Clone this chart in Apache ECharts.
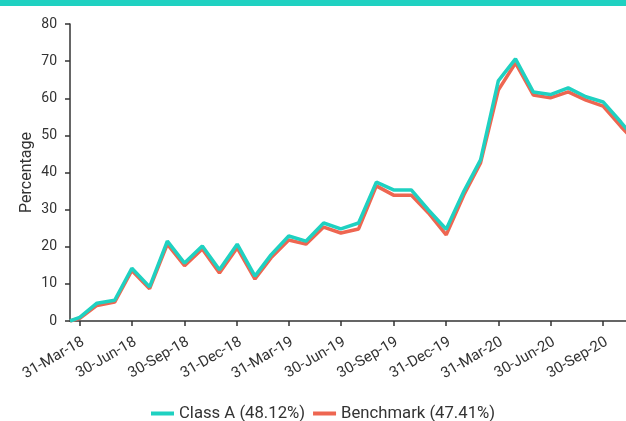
<!DOCTYPE html>
<html>
<head>
<meta charset="utf-8">
<script src="https://cdn.jsdelivr.net/npm/echarts@6/dist/echarts.min.js"></script>
<style>html,body{margin:0;padding:0;background:#fff;}#c{width:626px;height:421px;}</style>
</head>
<body>
<div id="c"></div>
<script>
const dates = ['2018-03-14','2018-03-31','2018-04-30','2018-05-31','2018-06-30','2018-07-31','2018-08-31','2018-09-30','2018-10-31','2018-11-30','2018-12-31',
  '2019-01-31','2019-02-28','2019-03-31','2019-04-30','2019-05-31','2019-06-30','2019-07-31','2019-08-31','2019-09-30','2019-10-31','2019-11-30','2019-12-31',
  '2020-01-31','2020-02-29','2020-03-31','2020-04-30','2020-05-31','2020-06-30','2020-07-31','2020-08-31','2020-09-30','2020-10-31','2020-11-30'];
const classA = [0,1.0,4.8,5.6,14.2,9.2,21.5,15.6,20.2,13.8,20.7,
  12.1,17.8,22.9,21.5,26.4,24.8,26.4,37.4,35.3,35.3,29.9,24.7,
  35.0,43.4,64.7,70.6,61.7,61.0,62.8,60.4,59.0,53.6,48.12];
const benchmark = [0,0.7,4.2,5.1,13.6,8.7,20.7,14.9,19.4,12.9,19.7,
  11.3,17.0,21.8,20.7,25.3,23.7,24.8,36.4,33.9,33.9,29.1,23.2,
  34.0,42.6,62.2,69.5,60.9,60.1,61.7,59.5,57.9,52.4,47.41];
const tickDates = ['2018-03-31','2018-06-30','2018-09-30','2018-12-31','2019-03-31','2019-06-30','2019-09-30','2019-12-31','2020-03-31','2020-06-30','2020-09-30'];
const seriesNames = ['Class A (48.12%)','Benchmark (47.41%)'];
const yTicks = [0,10,20,30,40,50,60,70,80];

const months = ['Jan','Feb','Mar','Apr','May','Jun','Jul','Aug','Sep','Oct','Nov','Dec'];
const ts = s => { const p = s.split('-').map(Number); return Date.UTC(p[0], p[1]-1, p[2]); };
const fmt = v => { const d = new Date(v); return String(d.getUTCDate()).padStart(2,'0') + '-' + months[d.getUTCMonth()] + '-' + String(d.getUTCFullYear()).slice(2); };

const chart = echarts.init(document.getElementById('c'), null, {renderer:'canvas'});
const font = 'Roboto';
chart.setOption({
  animation:false,
  textStyle:{fontFamily:font},
  graphic:[{type:'rect', left:0, top:0, shape:{width:626, height:6}, style:{fill:'#1fd1c1'}}],
  grid:{left:70, right:0, top:24, bottom:100, containLabel:false},
  legend:{
    top:400, left:146, itemWidth:23, itemHeight:4, icon:'rect', itemGap:8,
    textStyle:{fontSize:16.7, color:'#333', fontFamily:font},
    data:seriesNames
  },
  xAxis:{
    type:'value',
    min:ts('2018-03-14'),
    max:ts('2018-03-31') + Math.round((626-80)/0.5722)*86400000,
    splitLine:{show:false},
    axisLine:{lineStyle:{color:'#333', width:1.5}},
    axisTick:{show:true, length:5, lineStyle:{color:'#333', width:1.5}, customValues:tickDates.map(ts)},
    axisLabel:{rotate:30, fontSize:15, color:'#333', fontFamily:font, margin:22, padding:[0,-4,0,0], customValues:tickDates.map(ts), formatter:v=>fmt(v), hideOverlap:false, showMinLabel:true, showMaxLabel:true}
  },
  yAxis:{
    type:'value', min:yTicks[0], max:yTicks[yTicks.length-1], interval:10,
    name:'Percentage', nameLocation:'middle', nameGap:35, nameMoveOverlap:false,
    nameTextStyle:{fontSize:16, color:'#333', fontFamily:font},
    splitLine:{show:false},
    axisLine:{show:true, lineStyle:{color:'#333', width:1.5}},
    axisTick:{show:true, length:5, lineStyle:{color:'#333', width:1.5}},
    axisLabel:{fontSize:14, color:'#333', fontFamily:font, margin:13}
  },
  series:[
    {name:seriesNames[0], type:'line', z:3, symbol:'none', clip:true, color:'#1fd1c1',
      lineStyle:{width:3.5, color:'#1fd1c1'},
      data:dates.map((d,i)=>[ts(d), classA[i]])},
    {name:seriesNames[1], type:'line', z:2, symbol:'none', clip:true, color:'#ee6651',
      lineStyle:{width:3.5, color:'#ee6651'},
      data:dates.map((d,i)=>[ts(d), benchmark[i]])}
  ]
});
</script>
</body>
</html>
